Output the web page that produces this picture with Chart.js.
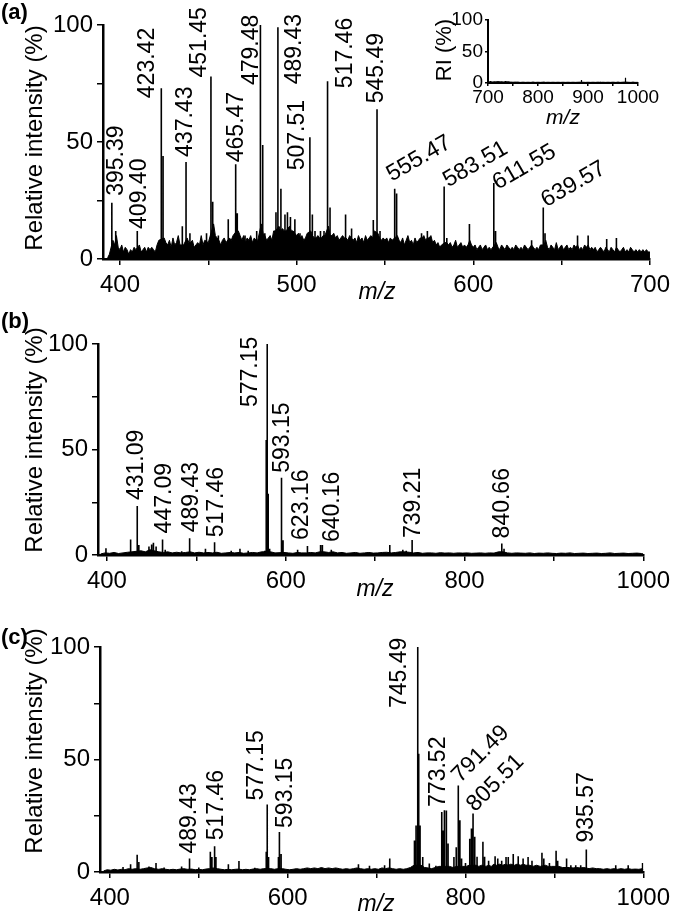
<!DOCTYPE html>
<html>
<head>
<meta charset="utf-8">
<script src="https://cdn.jsdelivr.net/npm/chart.js@4.4.1/dist/chart.umd.min.js"></script>
<style>
  body { margin: 0; background: #fff; }
  #page { position: relative; width: 676px; height: 914px; overflow: hidden; }
  canvas { position: absolute; }
  .tag { position: absolute; left: 1px; font: bold 22px 'Liberation Sans', Arial, sans-serif; line-height: 22px; }
</style>
</head>
<body>
<div id="page">
  <canvas id="specA" width="676" height="305" style="left:0;top:0"></canvas>
  <canvas id="specInset" width="276" height="132" style="left:400px;top:0"></canvas>
  <canvas id="specB" width="676" height="300" style="left:0;top:305px"></canvas>
  <canvas id="specC" width="676" height="309" style="left:0;top:605px"></canvas>
  <div class="tag" style="top:1px">(a)</div>
  <div class="tag" style="top:310px">(b)</div>
  <div class="tag" style="top:626px">(c)</div>
</div>
<script>
// axis ticks
const mzTicksA = [400, 450, 500, 550, 600, 650, 700];
const mzLabelsA = [400, 500, 600, 700];
const mzTicksBC = [400, 500, 600, 700, 800, 900, 1000];
const mzLabelsBC = [400, 600, 800, 1000];
const mzTicksInset = [700, 750, 800, 850, 900, 950, 1000];
const mzLabelsInset = [700, 800, 900, 1000];
const riTicks = [0, 25, 50, 75, 100];
const riLabels = [0, 50, 100];

// (a) spectrum: [m/z, relative intensity %]
const peaksA = [[395.4,24],[397.6,12],[409.8,12],[423.4,73],[424.4,44],[435.3,14],[437.4,41.5],[439.6,11],
  [449,11],[451.5,78],[452.5,24.5],[455.7,10],[461.3,17],[465.5,40.5],[466.4,19.5],[470.8,10],[477.4,12],
  [479.5,100],[480.8,48.7],[482,11],[488.3,20],[489.4,99],[491.1,30],[493.4,19],[494.8,20],[496.5,18],[499,17],
  [501.9,11],[507.5,52],[508.9,19],[510.4,12],[513.5,12],[515.5,12],[517.5,76],[518.9,22],[527.7,19],[531.1,13],
  [543.4,16.7],[545.5,64],[547.2,12],[555.5,30],[556.6,28],[570.7,11],[574,12],[583.5,31],[585,9],[597.8,15],
  [611.6,32.5],[612.6,12],[633,8],[639.6,22],[640.6,11],[659,10],[665,10],[675.5,8.6],[681,9]];
const noiseA = [[393,0.5],[394,2],[396,8],[397,6],[398,10],[399,5],[400,4],[401,6],[402,3],[403,5],[404,4],[405,2],
  [406,4],[407,3],[408,5],[409,4],[411,6],[412,3],[413,4],[414,5],[415,3],[416,5],[417,4],[418,5],[419,4],[420,3],
  [421,6],[422,8],[425,9],[426,7],[427,6],[428,8],[429,5],[430,9],[431,6],[432,7],[433,10],[434,6],[436,6],[438,9],
  [439,7],[440,7],[441,8],[442,5],[443,6],[444,7],[445,6],[446,10],[447,6],[448,8],[450,7],[453,15],[454,10],[455,9],
  [456,8],[457,6],[458,8],[459,9],[460,7],[462,9],[463,8],[464,10],[466,12],[467,12],[468,10],[469,8],[470,10],
  [471,7],[472,9],[473,8],[474,10],[475,7],[476,9],[477,8],[478,8],[480,15],[481,11],[482,10],[483,8],[484,9],
  [485,10],[486,8],[487,12],[488,12],[490,14],[491,12],[492,13],[493,12],[494,12],[495,13],[496,14],[497,12],
  [498,12],[499,11],[500,10],[501,11],[502,9],[503,10],[504,8],[505,9],[506,11],[508,12],[509,10],[510,9],[511,9],
  [512,10],[513,9],[514,9],[515,10],[516,10],[518,14],[519,10],[520,10],[521,11],[522,9],[523,10],[524,8],[525,9],
  [526,10],[527,9],[528,9],[529,8],[530,10],[531,9],[532,8],[533,9],[534,7],[535,10],[536,8],[537,9],[538,7],
  [539,10],[540,8],[541,9],[542,10],[543,9],[544,12],[546,11],[547,9],[548,8],[549,9],[550,8],[551,9],[552,7],
  [553,9],[554,8],[557,10],[558,8],[559,7],[560,9],[561,6],[562,8],[563,10],[564,7],[565,8],[566,6],[567,9],
  [568,7],[569,8],[570,9],[571,9],[572,10],[573,8],[574,9],[575,9],[576,10],[577,7],[578,8],[579,6],[580,7],
  [581,5],[582,6],[584,7],[585,7],[586,6],[587,7],[588,5],[589,6],[590,8],[591,5],[592,6],[593,7],[594,5],[595,6],
  [596,5],[597,6],[598,8],[599,6],[600,5],[601,6],[602,4],[603,5],[604,6],[605,4],[606,5],[607,6],[608,4],[609,5],
  [610,4],[612,6],[613,7],[614,5],[615,4],[616,6],[617,5],[618,4],[619,6],[620,5],[621,4],[622,5],[623,4],[624,6],
  [625,5],[626,4],[627,5],[628,4],[629,6],[630,5],[631,4],[632,5],[633,6],[634,5],[635,4],[636,5],[637,4],[638,6],
  [640,6],[641,8],[642,5],[643,4],[644,6],[645,5],[646,4],[647,7],[648,4],[649,5],[650,6],[651,4],[652,5],[653,6],
  [654,4],[655,5],[656,4],[657,6],[658,5],[659,6],[660,4],[661,5],[662,4],[663,6],[664,5],[665,6],[666,4],[667,5],
  [668,4],[669,5],[670,3],[671,4],[672,5],[673,4],[674,3],[675,5],[676,4],[677,3],[678,5],[679,4],[680,3],[681,5],
  [682,4],[683,3],[684,4],[685,5],[686,3],[687,4],[688,3],[689,5],[690,4],[691,3],[692,4],[693,3],[694,4],[695,3],
  [696,4],[697,3],[698,4],[699,3],[700,3]];
const labelTextA = ['395.39','409.40','423.42','437.43','451.45','465.47','479.48','489.43','507.51','517.46',
  '545.49','555.47','583.51','611.55','639.57'];
const labelMzA = [395.4,409.8,423.4,437.4,451.5,465.5,479.5,489.4,507.5,517.5,545.5,555.5,583.5,611.6,639.6];
const labelRiA = [24,12,73,41.5,78,40.5,100,99,52,76,64,30,31,32.5,22];

// inset of (a), m/z 700-1000
const peaksInset = [[705,3],[712,2.5],[720,3],[728,2.5],[735,3],[741,2],[760,2],[790,1.8],[812,2],[840,1.5],
  [887,4.8],[925,2],[960,2],[975,8.4],[990,2]];
const noiseInset = [[700,1.5],[705,2],[710,1.5],[715,2],[720,1.8],[725,2],[730,1.5],[735,2],[740,1.8],[745,1.5],
  [750,1.2],[755,1.5],[760,1.2],[765,1],[770,1.3],[775,1],[780,1.2],[785,1],[790,1.3],[795,1],[800,1.2],[805,1],
  [810,1.3],[815,1],[820,1.2],[825,1],[830,1.2],[835,1],[840,1.2],[845,1],[850,1.2],[855,1],[860,1.2],[865,1],
  [870,1.2],[875,1],[880,1.2],[885,1.3],[890,1.2],[895,1],[900,1.2],[905,1],[910,1.2],[915,1],[920,1.3],[925,1],
  [930,1.2],[935,1],[940,1.2],[945,1],[950,1.3],[955,1],[960,1.2],[965,1],[970,1.3],[975,1.5],[980,1.2],[985,1],
  [990,1.2],[995,1],[1000,1]];

// (b) spectrum
const peaksB = [[398.9,3.2],[426.5,7.4],[433.9,23.2],[435.7,4.7],[447,4],[450,5],[452,5.8],[455,4],[462.2,7.4],
  [465.2,2.5],[483.6,1.8],[492.5,7.9],[510.2,3],[520.4,6],[539,2],[548.8,3],[558,2],[576.5,2],[578.2,54.5],
  [579.3,100],[580.4,29],[582,3],[594.8,8.7],[595.6,36.6],[597,7],[613.3,2.5],[624.3,4.3],[639,4.7],[641,4.7],
  [651,2.5],[716.4,4.7],[731,2.5],[734.8,2],[741.4,7.1],[841.7,5.5],[844.2,3]];
const noiseB = [[393,0.5],[398,1],[403,0.8],[408,1.2],[413,0.7],[418,1],[423,1.3],[428,1.5],[438,2],[443,1.5],
  [448,2.5],[453,2],[458,1.5],[463,1.2],[468,1.5],[473,1],[478,1.3],[483,1],[488,1.2],[493,1.5],[498,1],[503,1.3],
  [508,1],[513,1.2],[518,1],[523,1.3],[528,0.8],[533,1],[538,1.2],[543,1],[548,1.2],[553,0.8],[558,1],[563,1.2],
  [568,1],[573,1.5],[583,1.5],[588,1],[598,1.2],[603,1],[608,0.8],[613,1.2],[618,1],[623,1],[628,1.2],[633,1],
  [638,1.5],[643,1.5],[648,1.2],[653,1.5],[658,1],[663,1.2],[668,0.8],[673,1],[678,1.2],[683,0.8],[688,1],
  [693,1.2],[698,0.9],[703,1],[708,1.2],[713,1.3],[718,1],[723,1.2],[728,1.5],[733,1.5],[738,1.3],[743,1],
  [748,1.2],[753,0.8],[758,1],[763,1],[768,0.8],[773,1.1],[778,0.9],[783,1],[788,0.8],[793,1],[798,0.9],[803,1],
  [808,0.8],[813,0.9],[818,1],[823,0.8],[828,1],[833,0.9],[838,1.5],[843,1.5],[848,1],[853,0.8],[858,1],[863,0.9],
  [868,0.8],[873,1],[878,0.7],[883,0.9],[888,0.8],[893,1],[898,0.8],[903,0.7],[908,0.9],[913,0.8],[918,1],
  [923,0.7],[928,0.8],[933,0.9],[938,0.7],[943,0.8],[948,0.9],[953,0.7],[958,0.8],[963,1],[968,0.7],[973,0.8],
  [978,0.9],[983,0.7],[988,0.8],[993,0.9],[998,0.7],[1000,0.5]];
const labelTextB = ['431.09','447.09','489.43','517.46','577.15','593.15','623.16','640.16','739.21','840.66'];
const labelMzB = [433.9,462.2,492.5,520.4,579.3,595.6,624.3,641,741.4,841.7];
const labelRiB = [23.2,7.4,7.9,6,100,36.6,4.3,4.7,7.1,5.5];

// (c) spectrum
const peaksC = [[414.8,2.2],[423.3,3.4],[430.7,7.7],[432.6,4.5],[444,2.5],[451.9,4],[461,2],[480.7,2.5],[489.6,6],
  [500,2],[513,9],[514.8,6.7],[517.8,11.4],[519.3,6.7],[533.3,3.4],[545.2,4.9],[563,1.9],[575.9,9],[577,30],
  [578.5,6.7],[589.6,6.7],[590.7,17.8],[592.6,8],[679.6,3.4],[692,2.8],[709,3],[714.8,6],[742.6,14],[744.4,20.7],
  [746.3,100],[747.4,52.6],[748.9,20.7],[751.9,6.7],[759.3,3.8],[766.7,2.8],[773.3,26.7],[774.8,18.5],[776.3,27.4],
  [778.5,27.3],[780.4,12.7],[787,6.7],[789.6,11],[791.9,38.5],[793.7,23],[795.6,6],[800,4],[804.8,14.8],
  [806.7,19.3],[808.5,26],[810.4,15.7],[813,6.8],[819.6,13.4],[821.5,6.8],[826,5],[833.3,7],[836.3,6],[840.7,5],
  [845.6,6.7],[848.1,6.7],[853.7,8],[859.3,7],[864.8,6],[870.4,6.7],[874.8,5],[886,8.6],[888.1,6],[894.4,4],
  [901.9,9.4],[903.7,5],[913.7,6],[918.5,3],[924,3],[929.6,3],[935.9,10],[969,3],[983,3],[999.2,4]];
const noiseC = [[393,0.5],[397,1],[401,0.8],[405,1.2],[409,0.9],[413,1.2],[417,1],[421,1.5],[425,1.2],[429,1.5],
  [434,1.2],[438,1.5],[442,1.8],[446,2],[450,1.5],[455,1.2],[459,1.5],[463,1.2],[467,1],[471,1.2],[475,1],[479,1.3],
  [483,1.5],[487,1.2],[492,1.3],[496,1],[500,1.2],[504,1],[508,1.3],[512,1.5],[516,1.8],[521,1.5],[525,1.2],[529,1],
  [533,1.2],[537,1],[541,1.2],[545,1.3],[549,1],[553,1.2],[557,1],[561,1.3],[565,1.5],[569,1.2],[573,1.5],[581,1.5],
  [585,1.2],[589,1.5],[594,1.5],[598,1.2],[602,1],[606,1.2],[610,1.5],[614,1.2],[618,1.5],[622,1.8],[626,1.5],
  [630,1.8],[634,1.5],[638,2],[642,1.5],[646,1.8],[650,1.5],[654,1.8],[658,1.5],[662,1.2],[666,1.5],[670,1.2],
  [674,1.5],[678,1.8],[682,1.5],[686,1.2],[690,1.5],[694,1.2],[698,1.5],[702,1.2],[706,1.8],[710,1.5],[714,1.8],
  [718,1.5],[722,1.2],[726,1.5],[730,1.2],[734,1.5],[738,2],[742,3],[750,3],[754,2],[758,1.8],[762,1.5],[766,2],
  [770,2.5],[782,2.5],[786,2],[790,2.5],[797,2.5],[801,2.5],[804,3],[812,3],[815,2.5],[818,3],[823,2.5],[826,3],
  [829,2.5],[832,3.5],[835,3],[838,3.5],[842,3],[845,3.5],[848,3],[851,3.5],[855,3],[858,3.5],[862,3],[865,3.5],
  [868,3],[872,3],[876,2.5],[880,3],[884,2.5],[890,3],[893,2.5],[897,2.5],[905,2.5],[909,2],[917,2],[921,1.8],
  [925,2],[929,1.8],[933,2],[939,1.5],[943,1.8],[947,1.5],[951,1.5],[955,1.2],[959,1.5],[963,1.2],[967,1.5],
  [971,1.2],[975,1.5],[979,1.2],[983,1.5],[987,1.2],[991,1.3],[995,1.2],[999,1.5],[1000,1]];
const labelTextC = ['489.43','517.46','577.15','593.15','745.49','773.52','791.49','805.51','935.57'];
const labelMzC = [489.6,517.8,577,590.7,746.3,773.3,791.9,808.5,935.9];
const labelRiC = [6,11.4,30,17.8,100,26.7,38.5,26,10];

// label placement (pixels / degrees), kept apart from the data
const placeA = { dx: [5,2,-14,0,-11,1,-9,17,-12,18,0,-3,4,4,3], gap: [7,2,-10,5,-1,2,-60,-57,-33,-7,6,7,-1,-7,0],
  rot: [90,90,90,90,90,90,90,90,90,90,90,30,30,30,30] };
const placeB = { dx: [-1,2,2,2,-17,1,-6,10,2,1], gap: [6,6,6,5,-63,5,6,3,2,5], rot: [90,90,90,90,90,90,90,90,90,90] };
const placeC = { dx: [0,2,-11,6,-18,-3,2,2,0], gap: [5,6,4,4,-61,5,2,1,7], rot: [90,90,90,90,90,90,45,45,90] };

const FONT = "'Liberation Sans', Arial, sans-serif";
Chart.defaults.font.family = FONT;
Chart.defaults.color = '#000';

// rotated peak labels
const peakLabels = {
  id: 'peakLabels',
  afterDatasetsDraw(chart, args, o) {
    if (!o || !o.text) return;
    const ctx = chart.ctx, x = chart.scales.x, y = chart.scales.y;
    ctx.save();
    ctx.fillStyle = '#000';
    ctx.font = o.size + 'px ' + FONT;
    o.text.forEach(function (t, i) {
      const px = x.getPixelForValue(o.mz[i]) + o.place.dx[i];
      const py = y.getPixelForValue(o.ri[i]) - o.place.gap[i];
      ctx.save();
      ctx.translate(px, py);
      ctx.rotate(-o.place.rot[i] * Math.PI / 180);
      ctx.textAlign = 'left';
      ctx.textBaseline = o.place.rot[i] === 90 ? 'middle' : 'alphabetic';
      ctx.fillText(t, 0, 0);
      ctx.restore();
    });
    ctx.restore();
  }
};

// axis titles placed by hand
const axisTitles = {
  id: 'axisTitles',
  afterDraw(chart, args, o) {
    if (!o || !o.yText) return;
    const ctx = chart.ctx;
    ctx.save();
    ctx.fillStyle = '#000';
    ctx.textAlign = 'center';
    ctx.textBaseline = 'middle';
    ctx.font = o.ySize + 'px ' + FONT;
    ctx.translate(o.yPos[0], o.yPos[1]);
    ctx.rotate(-Math.PI / 2);
    ctx.fillText(o.yText, 0, 0);
    ctx.restore();
    ctx.save();
    ctx.fillStyle = '#000';
    ctx.textAlign = 'center';
    ctx.textBaseline = 'middle';
    ctx.font = 'italic ' + o.xSize + 'px ' + FONT;
    ctx.fillText('m/z', o.xPos[0], o.xPos[1]);
    ctx.restore();
  }
};

function spectrum(id, s) {
  let sticks = [];
  s.peaks.slice().sort(function (a, b) { return a[0] - b[0]; }).forEach(function (p) {
    sticks.push({ x: p[0], y: 0 }, { x: p[0], y: p[1] }, { x: p[0], y: 0 });
  });
  return new Chart(document.getElementById(id), {
    type: 'line',
    data: {
      datasets: [
        { data: s.noise.map(function (p) { return { x: p[0], y: p[1] }; }), borderColor: '#000', backgroundColor: '#000',
          borderWidth: 1, fill: 'origin', pointRadius: 0, tension: 0 },
        { data: sticks, borderColor: '#000', borderWidth: s.stick, borderJoinStyle: 'bevel', fill: false, pointRadius: 0, tension: 0 }
      ]
    },
    options: {
      responsive: false,
      animation: false,
      events: [],
      layout: { padding: s.padding },
      plugins: { legend: { display: false }, tooltip: { enabled: false }, peakLabels: s.labels || {}, axisTitles: s.titles },
      scales: {
        x: {
          type: 'linear', min: s.xMin, max: s.xMax,
          afterBuildTicks: function (a) { a.ticks = s.xTicks.map(function (v) { return { value: v }; }); },
          afterFit: function (a) { a.height = s.xHeight; },
          ticks: { autoSkip: false, maxRotation: 0, padding: s.xPad, font: { size: s.tickSize },
            callback: function (v) { return s.xLabels.includes(v) ? String(v) : ''; } },
          grid: { drawOnChartArea: false, tickLength: s.tickLen, tickWidth: 1.5, tickColor: '#000', lineWidth: 1.5, color: '#000' },
          border: { color: '#000', width: s.axisWidth }
        },
        y: {
          min: 0, max: 100,
          afterBuildTicks: function (a) { a.ticks = s.yTicks.map(function (v) { return { value: v }; }); },
          afterFit: function (a) { a.width = s.yWidth; },
          ticks: { autoSkip: false, padding: s.yPad, font: { size: s.tickSize },
            callback: function (v) { return riLabels.includes(v) ? String(v) : ''; } },
          grid: { drawOnChartArea: false, tickLength: s.tickLen, tickWidth: 1.5, tickColor: '#000', lineWidth: 1.5, color: '#000' },
          border: { color: '#000', width: s.axisWidth }
        }
      }
    },
    plugins: [peakLabels, axisTitles]
  });
}

window.addEventListener('DOMContentLoaded', function () {
  spectrum('specA', {
    peaks: peaksA, noise: noiseA, xMin: 390.4, xMax: 700, xTicks: mzTicksA, xLabels: mzLabelsA, yTicks: riTicks,
    padding: { left: 0, top: 25, right: 26, bottom: 0 }, xHeight: 46, yWidth: 103,
    tickSize: 24, tickLen: 6, xPad: 6, yPad: 4, axisWidth: 2.5, stick: 1.6,
    labels: { text: labelTextA, mz: labelMzA, ri: labelRiA, place: placeA, size: 23 },
    titles: { yText: 'Relative intensity (%)', ySize: 24, yPos: [35, 138], xSize: 23, xPos: [377, 293] }
  });
  spectrum('specInset', {
    peaks: peaksInset, noise: noiseInset, xMin: 700, xMax: 1000, xTicks: mzTicksInset, xLabels: mzLabelsInset,
    yTicks: [0, 50, 100], padding: { left: 0, top: 20, right: 38, bottom: 0 }, xHeight: 49, yWidth: 88,
    tickSize: 19, tickLen: 3, xPad: 0, yPad: 2, axisWidth: 2, stick: 1.2,
    titles: { yText: 'RI (%)', ySize: 22, yPos: [45, 50], xSize: 21, xPos: [163, 118] }
  });
  spectrum('specB', {
    peaks: peaksB, noise: noiseB, xMin: 390, xMax: 1000, xTicks: mzTicksBC, xLabels: mzLabelsBC, yTicks: riTicks,
    padding: { left: 0, top: 39, right: 26, bottom: 0 }, xHeight: 50, yWidth: 98,
    tickSize: 24, tickLen: 6, xPad: 6, yPad: 4, axisWidth: 2.5, stick: 1.6,
    labels: { text: labelTextB, mz: labelMzB, ri: labelRiB, place: placeB, size: 23 },
    titles: { yText: 'Relative intensity (%)', ySize: 24, yPos: [35, 135], xSize: 23, xPos: [375, 285] }
  });
  spectrum('specC', {
    peaks: peaksC, noise: noiseC, xMin: 388.9, xMax: 1000, xTicks: mzTicksBC, xLabels: mzLabelsBC, yTicks: riTicks,
    padding: { left: 0, top: 42, right: 26, bottom: 0 }, xHeight: 42, yWidth: 100,
    tickSize: 24, tickLen: 6, xPad: 6, yPad: 4, axisWidth: 2.5, stick: 1.6,
    labels: { text: labelTextC, mz: labelMzC, ri: labelRiC, place: placeC, size: 23 },
    titles: { yText: 'Relative intensity (%)', ySize: 24, yPos: [35, 136], xSize: 23, xPos: [376, 300] }
  });
});
</script>
</body>
</html>
